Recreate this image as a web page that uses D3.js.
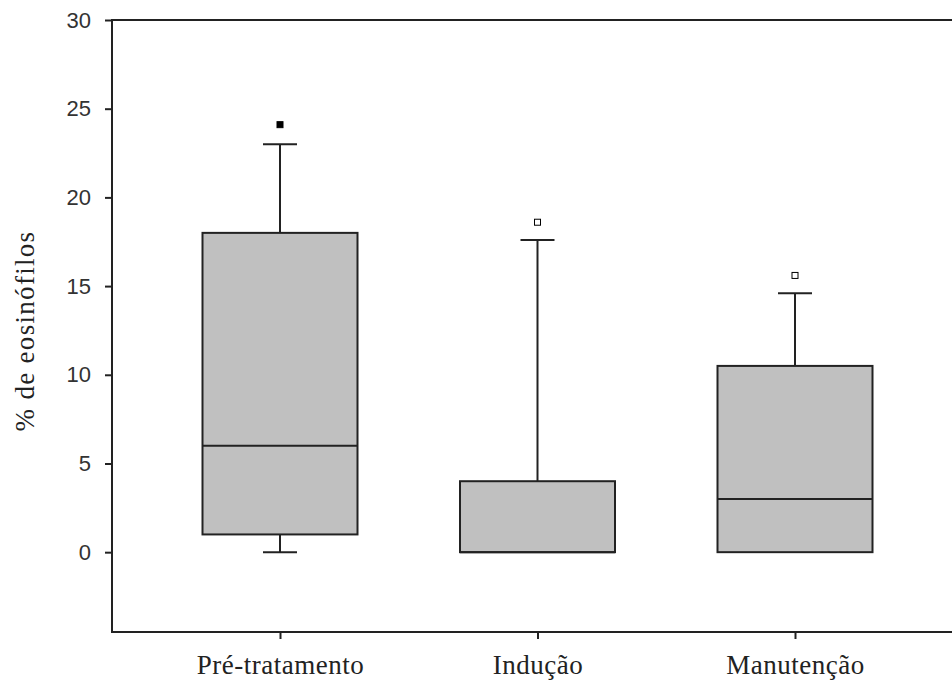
<!DOCTYPE html>
<html>
<head>
<meta charset="utf-8">
<script src="https://cdn.jsdelivr.net/npm/d3@7"></script>
<style>
  html, body { margin: 0; padding: 0; background: #fff; }
  svg { display: block; }
</style>
</head>
<body>
<svg id="chart"></svg>
<script>
// dados do boxplot (% de eosinófilos)
const categories = ["Pré-tratamento", "Indução", "Manutenção"];
const mins     = [0, 0, 0];
const q1s      = [1, 0, 0];
const medians  = [6, 0, 3];
const q3s      = [18, 4, 10.5];
const maxes    = [23, 17.6, 14.6];
const outliers = [24.1, 18.6, 15.6];
const outlierFilled = [true, false, false];
const yTicks = [0, 5, 10, 15, 20, 25, 30];

const width = 952, height = 681;
const plotLeft = 112, plotTop = 20, plotBottom = 632;

const svg = d3.select("#chart").attr("width", width).attr("height", height);

const y = d3.scaleLinear().domain([-4.5, 30]).range([plotBottom, plotTop]);
const x = d3.scalePoint().domain(categories).range([280, 795]);

const boxW = 155, capW = 34;
const ink = "#222";

// eixo Y
const yAxis = svg.append("g")
    .attr("transform", `translate(${plotLeft},0)`)
    .call(d3.axisLeft(y).tickValues(yTicks).tickSize(7).tickPadding(14));
yAxis.select(".domain").remove();
yAxis.selectAll("line").attr("stroke", ink).attr("stroke-width", 2);
yAxis.selectAll("text")
    .attr("fill", "#333")
    .style("font-family", "'Liberation Sans', Arial, sans-serif")
    .style("font-size", "22px");

// eixo X
const xAxis = svg.append("g")
    .attr("transform", `translate(0,${plotBottom})`)
    .call(d3.axisBottom(x).tickSize(7).tickPadding(12));
xAxis.select(".domain").remove();
xAxis.selectAll("line").attr("stroke", ink).attr("stroke-width", 2);
xAxis.selectAll("text")
    .attr("fill", "#222")
    .attr("dy", "0.85em")
    .style("font-family", "'Liberation Serif', 'Times New Roman', serif")
    .style("font-size", "27px")
    .style("letter-spacing", "0.5px");

// moldura: esquerda, topo, base
svg.append("path")
    .attr("d", `M${width + 5},${plotTop}H${plotLeft}V${plotBottom}H${width + 5}`)
    .attr("fill", "none")
    .attr("stroke", ink)
    .attr("stroke-width", 2);

// título do eixo Y
svg.append("text")
    .attr("transform", `translate(34,${(plotTop + plotBottom) / 2 + 5}) rotate(-90)`)
    .attr("text-anchor", "middle")
    .attr("fill", "#222")
    .style("font-family", "'Liberation Serif', 'Times New Roman', serif")
    .style("font-size", "27px")
    .style("letter-spacing", "1.3px")
    .text("% de eosinófilos");

// caixas
const g = svg.append("g");
categories.forEach((c, i) => {
    const cx = x(c);
    const line = (x1, y1, x2, y2) => g.append("line")
        .attr("x1", x1).attr("y1", y1).attr("x2", x2).attr("y2", y2)
        .attr("stroke", ink).attr("stroke-width", 2);

    // bigode superior
    line(cx, y(q3s[i]), cx, y(maxes[i]));
    line(cx - capW / 2, y(maxes[i]), cx + capW / 2, y(maxes[i]));
    // bigode inferior
    if (mins[i] < q1s[i]) {
        line(cx, y(q1s[i]), cx, y(mins[i]));
        line(cx - capW / 2, y(mins[i]), cx + capW / 2, y(mins[i]));
    }

    g.append("rect")
        .attr("x", cx - boxW / 2)
        .attr("y", y(q3s[i]))
        .attr("width", boxW)
        .attr("height", y(q1s[i]) - y(q3s[i]))
        .attr("fill", "#c0c0c0")
        .attr("stroke", ink)
        .attr("stroke-width", 2);

    line(cx - boxW / 2, y(medians[i]), cx + boxW / 2, y(medians[i]));

    // outlier
    g.append("rect")
        .attr("x", cx - 3)
        .attr("y", y(outliers[i]) - 3)
        .attr("width", 6)
        .attr("height", 6)
        .attr("fill", outlierFilled[i] ? "#000" : "#fff")
        .attr("stroke", "#000")
        .attr("stroke-width", 1);
});
</script>
</body>
</html>
